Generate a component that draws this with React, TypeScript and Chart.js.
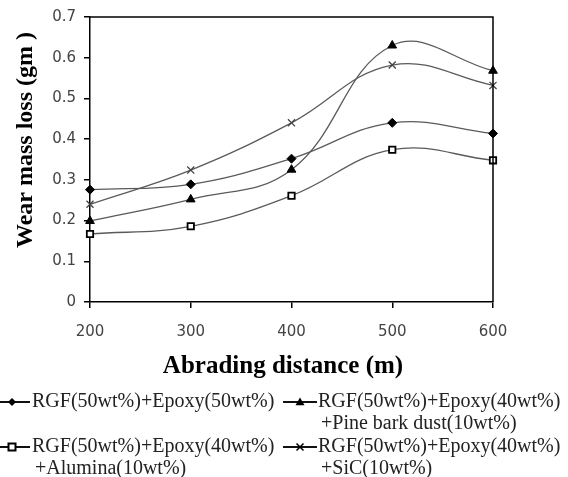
import React, { useEffect, useRef } from 'react';
import { Chart, registerables } from 'chart.js';

Chart.register(...registerables);

// ---- data ----
const distances = ['200', '300', '400', '500', '600'];
const plainEpoxy = [0.276, 0.289, 0.352, 0.44, 0.414];
const pineBark = [0.199, 0.252, 0.325, 0.63, 0.568];
const alumina = [0.167, 0.186, 0.261, 0.374, 0.348];
const sic = [0.24, 0.324, 0.44, 0.582, 0.532];

const labelPlain = ['RGF(50wt%)+Epoxy(50wt%)'];
const labelPine = ['RGF(50wt%)+Epoxy(40wt%)', '+Pine bark dust(10wt%)'];
const labelAlumina = ['RGF(50wt%)+Epoxy(40wt%)', '+Alumina(10wt%)'];
const labelSic = ['RGF(50wt%)+Epoxy(40wt%)', '+SiC(10wt%)'];

const xTitle = 'Abrading distance (m)';
const yTitle = 'Wear mass loss (gm )';

const LINE = '#5a5a5a';

function drawMarker(ctx: CanvasRenderingContext2D, style: string, x: number, y: number) {
  ctx.save();
  ctx.beginPath();
  if (style === 'diamond') {
    const r = 4;
    ctx.moveTo(x, y - r); ctx.lineTo(x + r, y); ctx.lineTo(x, y + r); ctx.lineTo(x - r, y); ctx.closePath();
    ctx.fillStyle = '#000'; ctx.fill();
  } else if (style === 'triangle') {
    const r = 4.5;
    ctx.moveTo(x, y - r); ctx.lineTo(x + r, y + r * 0.7); ctx.lineTo(x - r, y + r * 0.7); ctx.closePath();
    ctx.fillStyle = '#000'; ctx.fill();
  } else if (style === 'square') {
    ctx.rect(x - 3.5, y - 3.5, 7, 7);
    ctx.fillStyle = '#fff'; ctx.fill();
    ctx.lineWidth = 2; ctx.strokeStyle = '#000'; ctx.stroke();
  } else {
    const r = 3.5;
    ctx.moveTo(x - r, y - r); ctx.lineTo(x + r, y + r);
    ctx.moveTo(x + r, y - r); ctx.lineTo(x - r, y + r);
    ctx.lineWidth = 1.5; ctx.strokeStyle = '#000'; ctx.stroke();
  }
  ctx.restore();
}

const annotations = {
  id: 'annotations',
  afterDraw(chart: any) {
    const ctx: CanvasRenderingContext2D = chart.ctx;
    const a = chart.chartArea;
    ctx.save();
    // frame top & right
    ctx.strokeStyle = '#000';
    ctx.lineWidth = 1.5;
    ctx.beginPath();
    ctx.moveTo(a.left, a.top);
    ctx.lineTo(a.right, a.top);
    ctx.lineTo(a.right, a.bottom);
    ctx.stroke();

    // axis titles
    ctx.fillStyle = '#000';
    ctx.textAlign = 'center';
    ctx.textBaseline = 'alphabetic';
    ctx.font = 'bold 25px "Liberation Serif", "Times New Roman", serif';
    ctx.fillText(xTitle, 283, 373);
    ctx.save();
    ctx.font = 'bold 24px "Liberation Serif", "Times New Roman", serif';
    ctx.translate(32, 140);
    ctx.rotate(-Math.PI / 2);
    ctx.fillText(yTitle, 0, 0);
    ctx.restore();

    // legend
    const entries = [
      { style: 'diamond', lines: labelPlain, x0: -6, x1: 30, mx: 12, tx: 32, y: 402 },
      { style: 'triangle', lines: labelPine, x0: 283, x1: 317, mx: 300, tx: 318, y: 402 },
      { style: 'square', lines: labelAlumina, x0: -6, x1: 30, mx: 12, tx: 32, y: 447 },
      { style: 'cross', lines: labelSic, x0: 283, x1: 317, mx: 300, tx: 318, y: 447 },
    ];
    ctx.font = '20px "Liberation Serif", "Times New Roman", serif';
    ctx.textAlign = 'left';
    ctx.textBaseline = 'middle';
    for (const e of entries) {
      ctx.strokeStyle = '#111';
      ctx.lineWidth = 2;
      ctx.beginPath();
      ctx.moveTo(e.x0, e.y);
      ctx.lineTo(e.x1, e.y);
      ctx.stroke();
      drawMarker(ctx, e.style, e.mx, e.y);
      ctx.fillStyle = '#222';
      e.lines.forEach((t, i) => {
        ctx.fillText(t, e.tx + (i > 0 ? 3 : 0), e.y + i * 22);
      });
    }
    ctx.restore();
  },
};

export default function App() {
  const ref = useRef<HTMLCanvasElement>(null);
  useEffect(() => {
    document.body.style.margin = '0';
    document.body.style.background = '#fff';
    const tickFont = { family: '"DejaVu Sans", sans-serif', size: 15 };
    const common = { borderColor: LINE, borderWidth: 1.3, tension: 0.4, fill: false, clip: false as any };
    const chart = new Chart(ref.current!, {
      type: 'line',
      data: {
        labels: distances,
        datasets: [
          { ...common, label: labelPlain.join(' '), data: plainEpoxy, pointStyle: 'rectRot', pointRadius: 4.5, pointBackgroundColor: '#000', pointBorderColor: '#000', pointBorderWidth: 1 },
          { ...common, label: labelPine.join(' '), data: pineBark, pointStyle: 'triangle', pointRadius: 5, pointBackgroundColor: '#000', pointBorderColor: '#000', pointBorderWidth: 1 },
          { ...common, label: labelAlumina.join(' '), data: alumina, pointStyle: 'rect', pointRadius: 4.5, pointBackgroundColor: '#fff', pointBorderColor: '#000', pointBorderWidth: 1.8 },
          { ...common, label: labelSic.join(' '), data: sic, pointStyle: 'crossRot', pointRadius: 5, pointBackgroundColor: '#444', pointBorderColor: '#444', pointBorderWidth: 1.3 },
        ],
      },
      options: {
        responsive: false,
        animation: false,
        events: [],
        layout: { padding: { top: 15, right: 75, left: 0, bottom: 0 } },
        plugins: { legend: { display: false }, tooltip: { enabled: false }, title: { display: false } },
        scales: {
          x: {
            type: 'category',
            offset: false,
            grid: { drawOnChartArea: false, drawTicks: true, tickLength: 6, color: '#000', lineWidth: 1.5 },
            border: { display: true, color: '#000', width: 1.5 },
            ticks: { font: tickFont, color: '#444', padding: 15, maxRotation: 0, autoSkip: false },
            afterFit: (s: any) => { s.height = 175; },
          },
          y: {
            min: 0,
            max: 0.7,
            grid: { drawOnChartArea: false, drawTicks: true, tickLength: 6, color: '#000', lineWidth: 1.5 },
            border: { display: true, color: '#000', width: 1.5 },
            ticks: {
              stepSize: 0.1,
              font: tickFont,
              color: '#444',
              padding: 8,
              callback: (v: any) => (Number(v) === 0 ? '0' : Number(v).toFixed(1)),
            },
            afterFit: (s: any) => { s.width = 90; },
          },
        },
      },
      plugins: [annotations],
    });
    return () => chart.destroy();
  }, []);
  return (
    <div style={{ width: 568, height: 477 }}>
      <canvas ref={ref} width={568} height={477} style={{ display: 'block' }} />
    </div>
  );
}
